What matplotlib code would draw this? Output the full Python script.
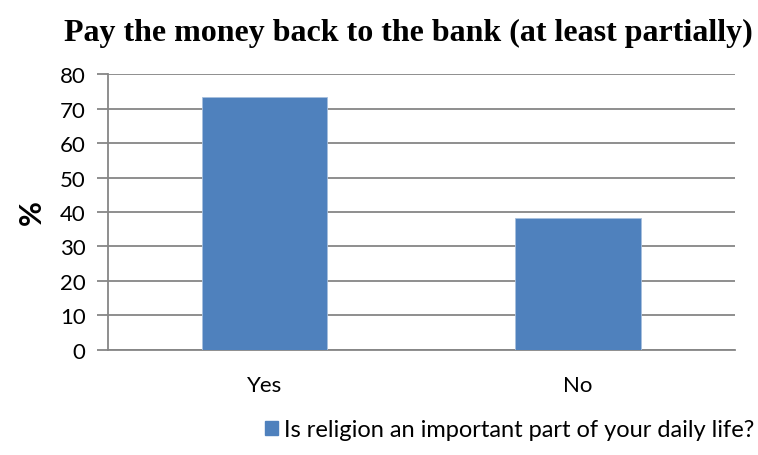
import matplotlib.pyplot as plt
from matplotlib.patches import Patch

categories = ["Yes", "No"]
values = [73.5, 38.2]
series_name = "Is religion an important part of your daily life?"
title = "Pay the money back to the bank (at least partially)"
bar_color = "#4f81bd"
grid_color = "#868686"

plt.rcParams['font.family'] = ['Lato', 'DejaVu Sans']

fig = plt.figure(figsize=(7.58, 4.56), dpi=100)
ax = fig.add_axes([107.7 / 758, 1 - 350.7 / 456, 627.3 / 758, 275.4 / 456])

x = range(len(categories))
ax.bar(x, values, width=0.4, color=bar_color, edgecolor="#a7c0de", linewidth=0.6, zorder=3)
ax.set_xlim(-0.5, len(categories) - 0.5)
ax.set_ylim(0, 80)
ax.set_yticks(range(0, 81, 10))
ax.set_xticks(list(x))
ax.set_xticklabels(categories)
ax.yaxis.grid(True, color=grid_color, linewidth=1.3, zorder=0)

for s in ["top", "right"]:
    ax.spines[s].set_visible(False)
ax.spines["left"].set_color(grid_color)
ax.spines["bottom"].set_color(grid_color)
ax.spines["left"].set_linewidth(1.3)
ax.spines["bottom"].set_linewidth(1.3)
ax.tick_params(axis="y", length=8, width=1.3, color=grid_color, labelsize=16, pad=8)
ax.tick_params(axis="x", length=0, labelsize=16, pad=18)

ax.set_ylabel("%", fontsize=22, fontweight="bold", labelpad=10)

fig.text(408 / 758, 1 - 33 / 456, title, ha="center", va="center",
         fontsize=23, fontweight="bold", family="Liberation Serif")

ax.legend(handles=[Patch(color=bar_color, label=series_name)],
          loc="center", bbox_to_anchor=(510 / 758, 1 - 431 / 456), bbox_transform=fig.transFigure,
          frameon=False, fontsize=17, handlelength=0.55, handleheight=0.55, handletextpad=0.25)

fig.savefig("out.png", dpi=100)
